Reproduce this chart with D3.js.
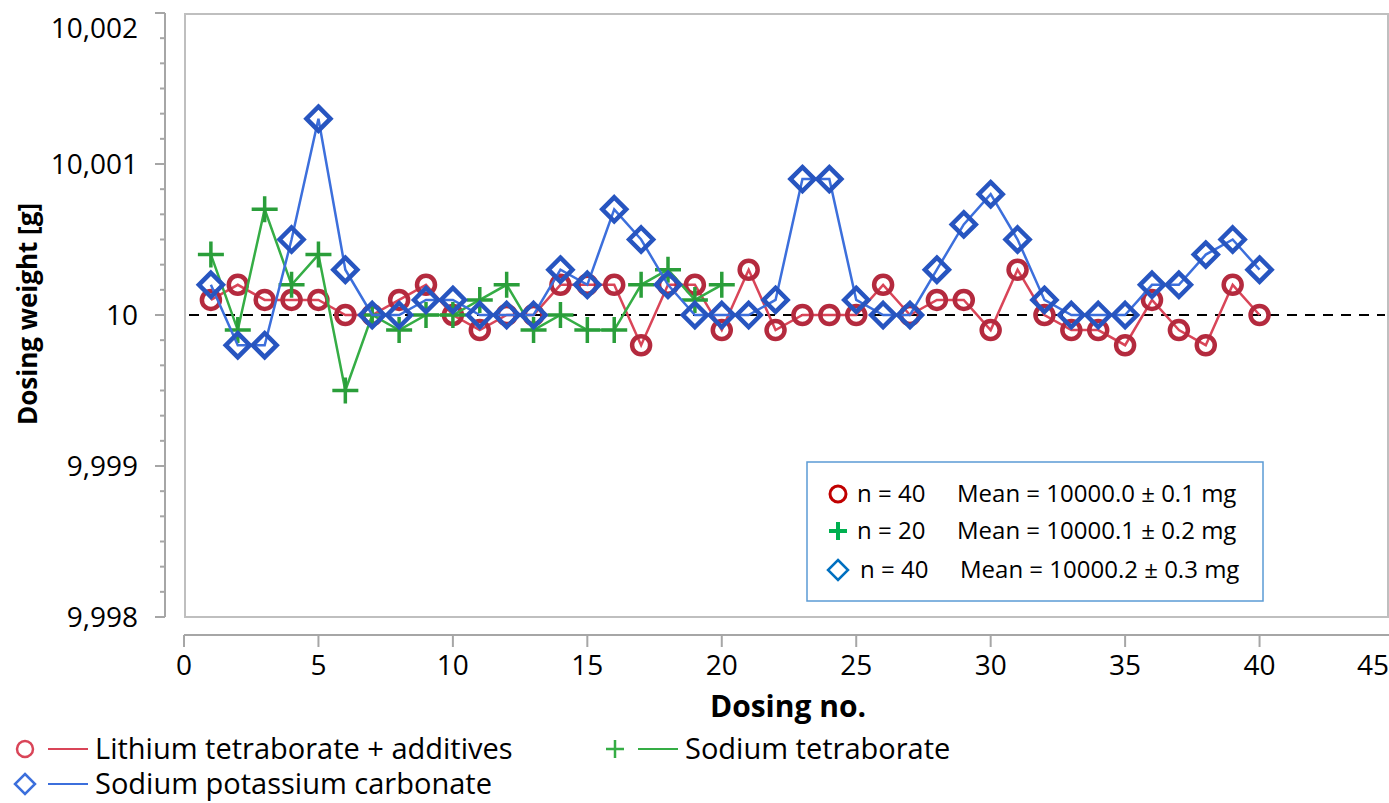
<!DOCTYPE html>
<html>
<head>
<meta charset="utf-8">
<script src="https://cdn.jsdelivr.net/npm/d3@7"></script>
<style>
  body { margin: 0; background: #fff; }
  svg text { font-family: "Open Sans", "Noto Sans", sans-serif; fill: #000; }
</style>
</head>
<body>
<div id="chart"></div>
<script>
// Dosing weights in mg
const dosingLithium = [
  10000.1, 10000.2, 10000.1, 10000.1, 10000.1, 10000.0, 10000.0, 10000.1, 10000.2, 10000.0,
  9999.9, 10000.0, 10000.0, 10000.2, 10000.2, 10000.2, 9999.8, 10000.2, 10000.2, 9999.9,
  10000.3, 9999.9, 10000.0, 10000.0, 10000.0, 10000.2, 10000.0, 10000.1, 10000.1, 9999.9,
  10000.3, 10000.0, 9999.9, 9999.9, 9999.8, 10000.1, 9999.9, 9999.8, 10000.2, 10000.0
];
const dosingSodiumTetra = [
  10000.4, 9999.9, 10000.7, 10000.2, 10000.4, 9999.5, 10000.0, 9999.9, 10000.0, 10000.0,
  10000.1, 10000.2, 9999.9, 10000.0, 9999.9, 9999.9, 10000.2, 10000.3, 10000.1, 10000.2
];
const dosingSodiumPotassium = [
  10000.2, 9999.8, 9999.8, 10000.5, 10001.3, 10000.3, 10000.0, 10000.0, 10000.1, 10000.1,
  10000.0, 10000.0, 10000.0, 10000.3, 10000.2, 10000.7, 10000.5, 10000.2, 10000.0, 10000.0,
  10000.0, 10000.1, 10000.9, 10000.9, 10000.1, 10000.0, 10000.0, 10000.3, 10000.6, 10000.8,
  10000.5, 10000.1, 10000.0, 10000.0, 10000.0, 10000.2, 10000.2, 10000.4, 10000.5, 10000.3
];

const seriesNames = ['Lithium tetraborate + additives', 'Sodium tetraborate', 'Sodium potassium carbonate'];
const statsLabels = [
  ['n = 40', 'Mean = 10000.0 \u00b1 0.1 mg'],
  ['n = 20', 'Mean = 10000.1 \u00b1 0.2 mg'],
  ['n = 40', 'Mean = 10000.2 \u00b1 0.3 mg']
];
const yTickValues = [9998, 9999, 10000, 10001, 10002];
const yTickLabels = ['9,998', '9,999', '10', '10,001', '10,002'];
const xTickValues = [0, 5, 10, 15, 20, 25, 30, 35, 40, 45];
const targetMg = 10000;

const W = 1389, H = 803;
const plot = { left: 185, top: 14, right: 1389, bottom: 617 };

const svg = d3.select('#chart').append('svg')
  .attr('width', W).attr('height', H);

const x = d3.scaleLinear().domain([0, 45]).range([184, 1394]);
const y = d3.scaleLinear().domain([9998, 10002]).range([617, 13]);

// plot area frame
svg.append('rect')
  .attr('x', plot.left).attr('y', plot.top)
  .attr('width', plot.right - plot.left - 1).attr('height', plot.bottom - plot.top)
  .attr('fill', 'none').attr('stroke', '#bfbfbf').attr('stroke-width', 2);

// y axis (drawn by hand to get Excel-like minor ticks)
const axisGray = '#a6a6a6';
const yAxis = svg.append('g');
yAxis.append('line')
  .attr('x1', 165).attr('x2', 165).attr('y1', y(10002)).attr('y2', y(9998))
  .attr('stroke', axisGray).attr('stroke-width', 2);
const minor = d3.range(0, 24).map(i => 9998 + i / 6).filter(v => Math.abs(v - Math.round(v)) > 1e-6);
yAxis.selectAll('.minor').data(minor).enter().append('line')
  .attr('x1', 160).attr('x2', 165)
  .attr('y1', d => y(d)).attr('y2', d => y(d))
  .attr('stroke', axisGray).attr('stroke-width', 2);
yAxis.selectAll('.major').data(yTickValues).enter().append('line')
  .attr('x1', 155).attr('x2', 165)
  .attr('y1', d => y(d)).attr('y2', d => y(d))
  .attr('stroke', axisGray).attr('stroke-width', 2);
yAxis.selectAll('text').data(yTickValues).enter().append('text')
  .attr('x', 138)
  .attr('y', d => Math.max(y(d), 28))
  .attr('dy', '0.35em')
  .attr('text-anchor', 'end')
  .style('font-size', '28px')
  .text((d, i) => yTickLabels[i]);

// x axis
const xAxisY = 635;
const xAxis = svg.append('g');
xAxis.append('line')
  .attr('x1', x(0)).attr('x2', W).attr('y1', xAxisY).attr('y2', xAxisY)
  .attr('stroke', axisGray).attr('stroke-width', 2);
xAxis.selectAll('.tick').data(xTickValues.filter(d => x(d) < W)).enter().append('line')
  .attr('x1', d => x(d)).attr('x2', d => x(d))
  .attr('y1', xAxisY).attr('y2', xAxisY + 12)
  .attr('stroke', axisGray).attr('stroke-width', 2);
xAxis.selectAll('text').data(xTickValues).enter().append('text')
  .attr('x', d => Math.min(x(d), W - 16))
  .attr('y', 665)
  .attr('dy', '0.35em')
  .attr('text-anchor', 'middle')
  .style('font-size', '28px')
  .text(d => d);

// axis titles
svg.append('text')
  .attr('transform', `translate(28, 314) rotate(-90)`)
  .attr('text-anchor', 'middle')
  .attr('dy', '0.35em')
  .style('font-size', '26px').style('font-weight', 'bold')
  .text('Dosing weight [g]');
svg.append('text')
  .attr('x', 788).attr('y', 706)
  .attr('dy', '0.35em')
  .attr('text-anchor', 'middle')
  .style('font-size', '30px').style('font-weight', 'bold')
  .text('Dosing no.');

// target line
svg.append('line')
  .attr('x1', plot.left + 4).attr('x2', plot.right - 4)
  .attr('y1', y(targetMg)).attr('y2', y(targetMg))
  .attr('stroke', '#000').attr('stroke-width', 2)
  .attr('stroke-dasharray', '10,8');

// marker shapes
function circlePath(r) {
  return `M${-r},0A${r},${r} 0 1,0 ${r},0A${r},${r} 0 1,0 ${-r},0Z`;
}
function plusPath(s) {
  return `M${-s},0H${s}M0,${-s}V${s}`;
}
function diamondPath(s) {
  return `M0,${-s}L${s},0L0,${s}L${-s},0Z`;
}

const series = [
  { name: seriesNames[0], values: dosingLithium, line: '#d94558', marker: '#b42a3e', shape: circlePath(9), mw: 4.5 },
  { name: seriesNames[1], values: dosingSodiumTetra, line: '#35ad45', marker: '#2a9e3a', shape: plusPath(13), mw: 3.5 },
  { name: seriesNames[2], values: dosingSodiumPotassium, line: '#3c6fdc', marker: '#2755c0', shape: diamondPath(12), mw: 4.5 }
];

const line = d3.line()
  .x((d, i) => x(i + 1))
  .y(d => y(d));

series.forEach(s => {
  const g = svg.append('g');
  g.append('path')
    .datum(s.values)
    .attr('d', line)
    .attr('fill', 'none')
    .attr('stroke', s.line)
    .attr('stroke-width', 2.5);
  g.selectAll('.mk').data(s.values).enter().append('path')
    .attr('transform', (d, i) => `translate(${x(i + 1)},${y(d)})`)
    .attr('d', s.shape)
    .attr('fill', 'none')
    .attr('stroke', s.marker)
    .attr('stroke-width', s.mw);
});

// stats box
const box = svg.append('g');
box.append('rect')
  .attr('x', 807).attr('y', 462).attr('width', 456).attr('height', 139)
  .attr('fill', '#fff').attr('stroke', '#5b9bd5').attr('stroke-width', 1.5);
const statsMarkers = [
  { shape: circlePath(8), color: '#c00000', w: 3 },
  { shape: plusPath(9), color: '#00b050', w: 4 },
  { shape: diamondPath(10), color: '#0070c0', w: 2.5 }
];
const statsRowY = [494, 531, 570];
statsLabels.forEach((lab, i) => {
  box.append('path')
    .attr('transform', `translate(838,${statsRowY[i]})`)
    .attr('d', statsMarkers[i].shape)
    .attr('fill', 'none')
    .attr('stroke', statsMarkers[i].color)
    .attr('stroke-width', statsMarkers[i].w);
  box.append('text')
    .attr('x', i === 2 ? 860 : 857).attr('y', statsRowY[i]).attr('dy', '0.35em')
    .style('font-size', '24px')
    .text(lab[0]);
  box.append('text')
    .attr('x', i === 2 ? 960 : 957).attr('y', statsRowY[i]).attr('dy', '0.35em')
    .style('font-size', '24px')
    .text(lab[1]);
});

// bottom legend
const legendItems = [
  { x: 25, y: 749, s: series[0], shape: circlePath(8), w: 2.5 },
  { x: 615, y: 749, s: series[1], shape: plusPath(9), w: 2.5 },
  { x: 25, y: 784, s: series[2], shape: diamondPath(10), w: 2.5 }
];
legendItems.forEach(it => {
  const g = svg.append('g').attr('transform', `translate(${it.x},${it.y})`);
  g.append('path').attr('d', it.shape)
    .attr('fill', 'none').attr('stroke', it.s.line).attr('stroke-width', it.w);
  g.append('line').attr('x1', 23).attr('x2', 63).attr('y1', 0).attr('y2', 0)
    .attr('stroke', it.s.line).attr('stroke-width', 2);
  g.append('text').attr('x', 70).attr('dy', '0.35em')
    .style('font-size', '29px')
    .text(it.s.name);
});
</script>
</body>
</html>
